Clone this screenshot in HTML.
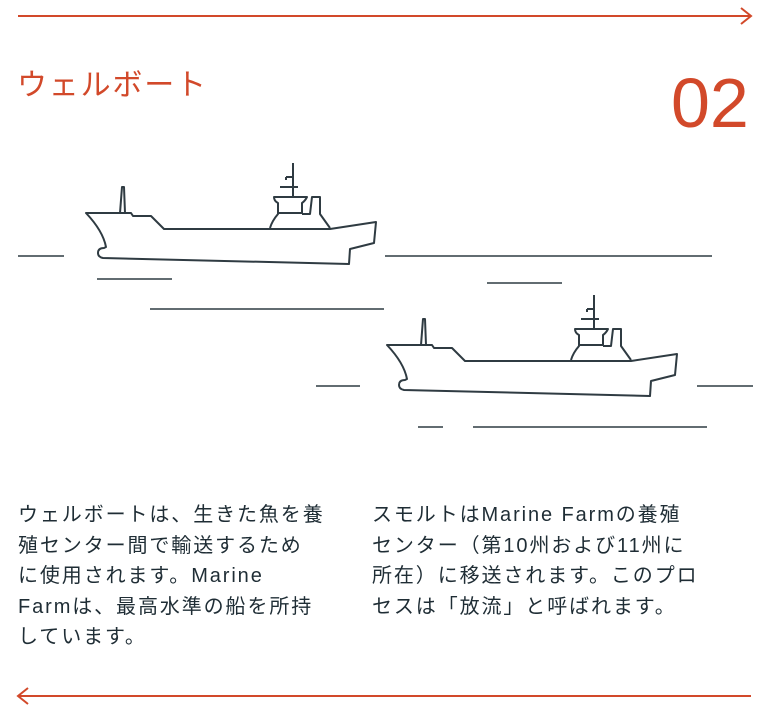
<!DOCTYPE html>
<html><head><meta charset="utf-8"><style>
html,body{margin:0;padding:0;background:#fff;}
body{width:765px;height:710px;position:relative;overflow:hidden;font-family:"Liberation Sans","Noto Sans CJK JP",sans-serif;}
.t{position:absolute;left:17px;top:66px;font-size:30px;color:#d2492a;letter-spacing:1.8px;line-height:40px;white-space:nowrap;}
.n{position:absolute;left:671px;top:63px;font-size:70px;color:#d2492a;line-height:80px;font-weight:normal;letter-spacing:0px;}
.p{position:absolute;top:500px;font-size:20px;line-height:30.5px;color:#1f2d35;letter-spacing:1.9px;white-space:nowrap;}
</style></head><body>
<svg width="765" height="710" style="position:absolute;left:0;top:0">
<g stroke="#d2492a" stroke-width="2" fill="none">
<line x1="18" y1="16" x2="751" y2="16"/><polyline points="741,8 751,16 741,24"/>
<line x1="18" y1="696" x2="751" y2="696"/><polyline points="28,688 18,696 28,704"/>
</g>
<g stroke="#2f3b42" stroke-width="1.6" fill="none">
<line x1="18" y1="256" x2="64" y2="256"/><line x1="385" y1="256" x2="712" y2="256"/>
<line x1="97" y1="279" x2="172" y2="279"/><line x1="487" y1="283" x2="562" y2="283"/>
<line x1="150" y1="309" x2="384" y2="309"/>
<line x1="316" y1="386" x2="360" y2="386"/><line x1="697" y1="386" x2="753" y2="386"/>
<line x1="418" y1="427" x2="443" y2="427"/><line x1="473" y1="427" x2="707" y2="427"/>
</g>
<defs>
<g id="ship" stroke="#2f3b42" stroke-width="2" fill="none" stroke-linejoin="round">
<path d="M0,0 L45,0 L47,3 L65,3 L78,16 L244,16 L290,9 L288,30 L264,36 L263,51 L17,45 Q12,44 12,40 Q12,35 18,35 L20,34 Q17,18 0,0 Z"/>
<path d="M34,0 L36,-26 L38,-26 L39,0"/>
<path d="M184,15 Q186,8 192,1 L192,-10 Q188,-12 188,-16 L221,-16 Q219,-12 216,-10 L216,1"/>
<line x1="192" y1="0" x2="216" y2="0"/>
<path d="M216,1 L224,1 L226,-16 L234,-16 L234,1 L244,15"/>
<line x1="207" y1="-16" x2="207" y2="-50"/>
<line x1="194" y1="-26" x2="212" y2="-26"/>
<line x1="200" y1="-36" x2="207" y2="-36"/>
<line x1="200" y1="-36" x2="200" y2="-33"/>
</g>
</defs>
<use href="#ship" x="86" y="213"/>
<use href="#ship" x="387" y="345"/>
</svg>
<div class="t">ウェルボート</div>
<div class="n">02</div>
<div class="p" style="left:18px">ウェルボートは、生きた魚を養<br>殖センター間で輸送するため<br>に使用されます。Marine<br>Farmは、最高水準の船を所持<br>しています。</div>
<div class="p" style="left:372px">スモルトはMarine Farmの養殖<br>センター（第10州および11州に<br>所在）に移送されます。このプロ<br>セスは「放流」と呼ばれます。</div>
</body></html>
